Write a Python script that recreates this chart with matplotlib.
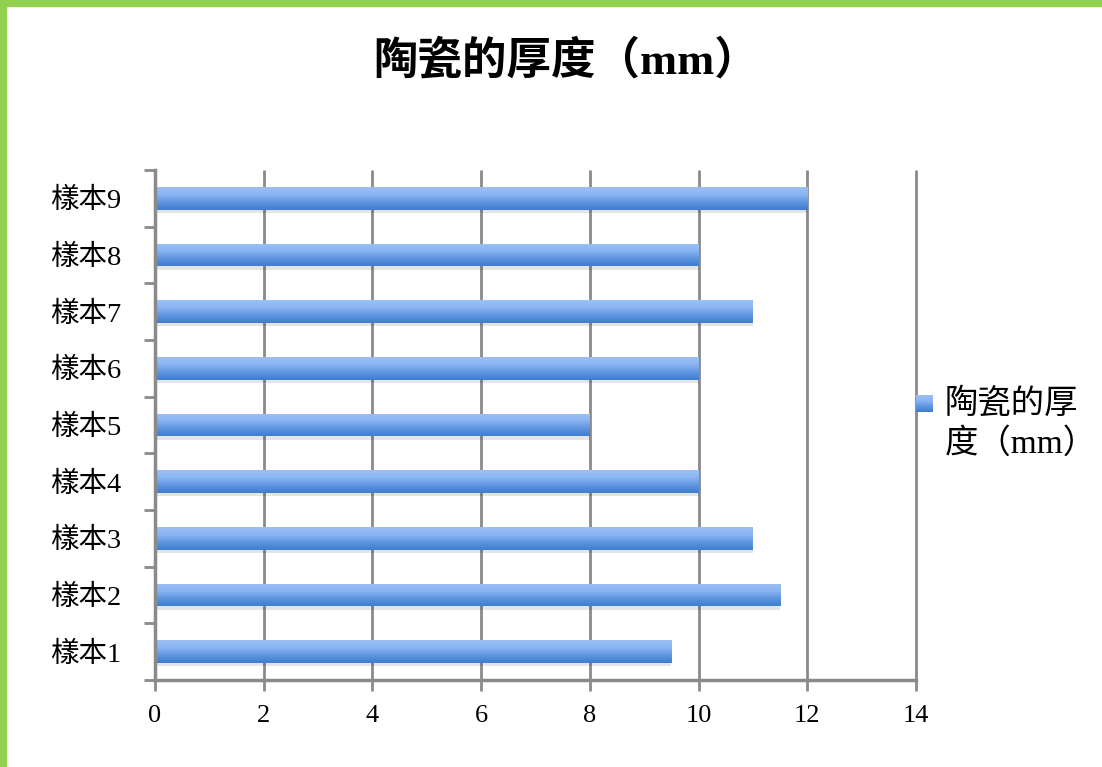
import numpy as np
import matplotlib
matplotlib.use("Agg")
import matplotlib.pyplot as plt
from matplotlib.colors import LinearSegmentedColormap
from matplotlib.patches import Rectangle

plt.rcParams["font.family"] = ["Liberation Serif", "Noto Sans CJK TC", "DejaVu Sans"]

# ── Data ───────────────────────────────────────────────────────────────────
samples = ["樣本1", "樣本2", "樣本3", "樣本4", "樣本5",
           "樣本6", "樣本7", "樣本8", "樣本9"]
thickness = [9.5, 11.5, 11, 10, 8, 10, 11, 10, 12]
x_ticks = [0, 2, 4, 6, 8, 10, 12, 14]
title = "陶瓷的厚度（mm）"

GRID = "#8a8a8a"
bar_cmap = LinearSegmentedColormap.from_list(
    "bar", ["#3f7dd0", "#5f95e0", "#8ab4f2", "#9cc0f5"])

fig = plt.figure(figsize=(11.02, 7.67), dpi=100)
ax = fig.add_axes([0.1407, 0.1134, 0.8312 - 0.1407, 0.7784 - 0.1134])

y = np.arange(1, len(samples) + 1)
h = 0.4
grad = np.linspace(0, 1, 64).reshape(-1, 1)

# vertical gridlines (unclipped so the last one at 14 keeps full width)
ax.vlines(x_ticks, 0.5, len(samples) + 0.5, colors=GRID, linewidth=2,
          zorder=1, clip_on=False)

# soft shadow under each bar
ax.barh(y - 0.06, thickness, height=h, color="#000000", alpha=0.10, zorder=2)
bars = ax.barh(y, thickness, height=h, color="#6a9de6", zorder=3)
for b in bars:
    x0, y0 = b.get_x(), b.get_y()
    w, hh = b.get_width(), b.get_height()
    im = ax.imshow(grad, cmap=bar_cmap, aspect="auto", origin="lower",
                   extent=[x0, x0 + w, y0, y0 + hh], zorder=4)
    im.set_clip_path(b)

ax.set_xlim(0, 14)
ax.set_ylim(0.5, len(samples) + 0.5)

ax.set_xticks(x_ticks)
ax.set_xticklabels([str(v) for v in x_ticks], fontsize=19)
ax.set_yticks(y)
ax.set_yticklabels(samples, fontsize=20.5)
ax.set_yticks(np.arange(0.5, len(samples) + 1, 1), minor=True)

ax.tick_params(axis="y", which="major", length=0, pad=24)
ax.tick_params(axis="y", which="minor", length=8, width=2, color=GRID)
ax.tick_params(axis="x", which="major", length=8, width=2, color=GRID,
               pad=10)

for s in ("top", "right"):
    ax.spines[s].set_visible(False)
for s in ("left", "bottom"):
    ax.spines[s].set_color(GRID)
    ax.spines[s].set_linewidth(2.5)
    ax.spines[s].set_zorder(5)

fig.text(0.5135, 0.92, title, ha="center", va="center",
         fontsize=32, fontweight="bold")

# legend
lax = fig.add_axes([916 / 1102, 1 - 412 / 767, 17 / 1102, 17 / 767])
lax.imshow(grad, cmap=bar_cmap, aspect="auto", origin="lower",
           extent=[0, 1, 0, 1])
lax.set_axis_off()
fig.text(945 / 1102, 1 - 424 / 767, "陶瓷的厚\n度（mm）", ha="left",
         va="center", fontsize=24, linespacing=1.35)

# green frame (top & left)
fig.add_artist(Rectangle((0, 0), 6 / 1102, 1, transform=fig.transFigure,
                         color="#92d050", zorder=10))
fig.add_artist(Rectangle((0, 1 - 6 / 767), 1, 6 / 767,
                         transform=fig.transFigure, color="#92d050", zorder=10))

fig.savefig("out.png", dpi=100)
